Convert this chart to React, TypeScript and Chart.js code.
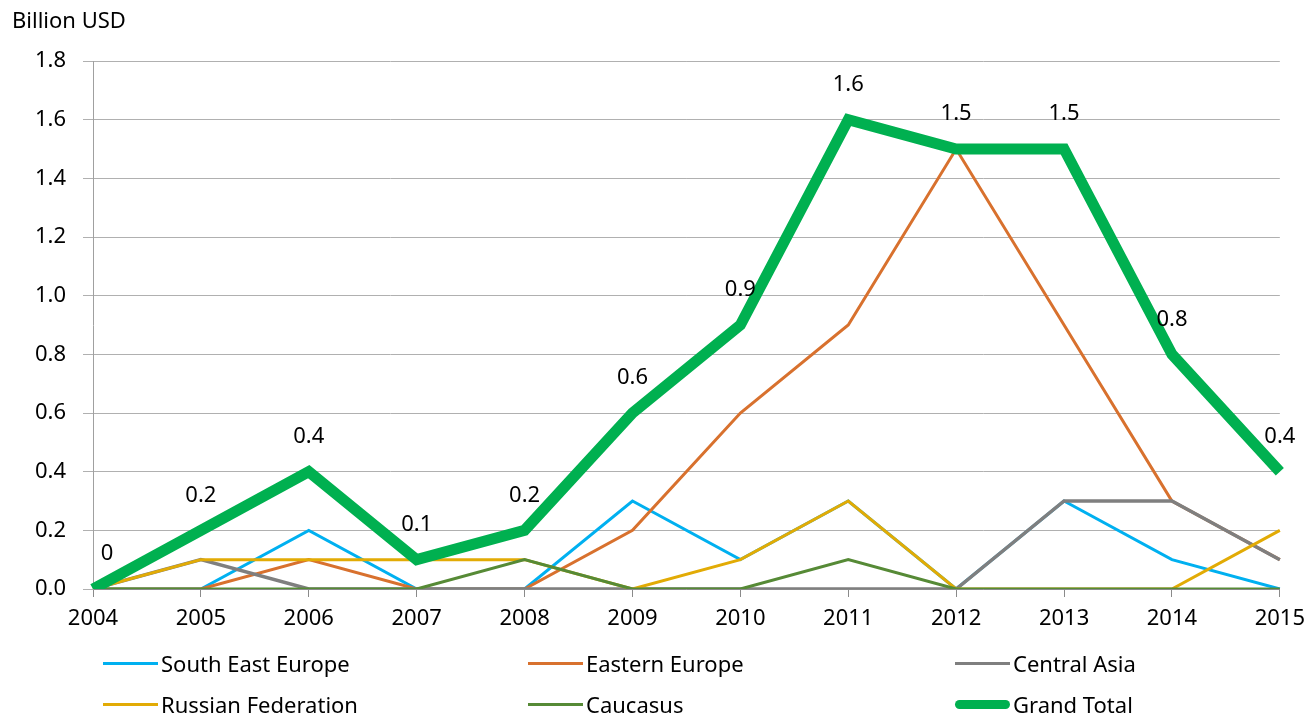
import React, { useEffect, useRef } from "react";
import { Chart, registerables } from "chart.js";

Chart.register(...registerables);

const years = ["2004", "2005", "2006", "2007", "2008", "2009", "2010", "2011", "2012", "2013", "2014", "2015"];
const southEastEurope = [0, 0, 0.2, 0, 0, 0.3, 0.1, 0.3, 0, 0.3, 0.1, 0];
const easternEurope = [0, 0, 0.1, 0, 0, 0.2, 0.6, 0.9, 1.5, 0.9, 0.3, 0.1];
const centralAsia = [0, 0.1, 0, 0, 0, 0, 0, 0, 0, 0.3, 0.3, 0.1];
const russianFederation = [0, 0.1, 0.1, 0.1, 0.1, 0, 0.1, 0.3, 0, 0, 0, 0.2];
const caucasus = [0, 0, 0, 0, 0.1, 0, 0, 0.1, 0, 0, 0, 0];
const grandTotal = [0, 0.2, 0.4, 0.1, 0.2, 0.6, 0.9, 1.6, 1.5, 1.5, 0.8, 0.4];
const grandTotalLabels = ["0", "0.2", "0.4", "0.1", "0.2", "0.6", "0.9", "1.6", "1.5", "1.5", "0.8", "0.4"];
const yTicks = [0, 0.2, 0.4, 0.6, 0.8, 1.0, 1.2, 1.4, 1.6, 1.8];

const FONT = "'Noto Sans', sans-serif";
const FONT_SIZE = 22;

const seriesNames = ["South East Europe", "Eastern Europe", "Central Asia", "Russian Federation", "Caucasus", "Grand Total"];
const seriesColors = ["#00b0f0", "#d8712e", "#7f7f7f", "#e2ab05", "#568a36", "#00b050"];
const seriesWidths = [3, 3, 3.5, 3, 3, 11];

const labelPlugin = {
  id: "totalLabels",
  afterDatasetsDraw(chart: any) {
    const meta = chart.getDatasetMeta(5);
    const ctx = chart.ctx;
    ctx.save();
    ctx.font = `${FONT_SIZE}px ${FONT}`;
    ctx.fillStyle = "#000";
    ctx.textAlign = "center";
    ctx.textBaseline = "middle";
    meta.data.forEach((pt: any, i: number) => {
      const dx = i === 0 ? 14 : 0;
      ctx.fillText(grandTotalLabels[i], pt.x + dx, pt.y - 35);
    });
    ctx.restore();
  },
};

export default function App() {
  const ref = useRef<HTMLCanvasElement | null>(null);
  useEffect(() => {
    if (!ref.current) return;
    const data = [southEastEurope, easternEurope, centralAsia, russianFederation, caucasus, grandTotal];
    const chart = new Chart(ref.current, {
      type: "line",
      data: {
        labels: years,
        datasets: data.map((d, i) => ({
          label: seriesNames[i],
          data: d,
          borderColor: seriesColors[i],
          backgroundColor: seriesColors[i],
          borderWidth: seriesWidths[i],
          pointRadius: 0,
          tension: 0,
          fill: false,
          order: 5 - i,
          borderJoinStyle: "miter" as const,
        })),
      },
      options: {
        animation: false,
        responsive: true,
        maintainAspectRatio: false,
        events: [],
        layout: { padding: { top: 61, right: 31, left: 0, bottom: 0 } },
        plugins: { legend: { display: false }, tooltip: { enabled: false } },
        scales: {
          x: {
            type: "category",
            offset: false,
            afterFit: (s: any) => { s.height = 128; },
            grid: { drawOnChartArea: false, drawTicks: true, tickLength: 8, color: "#8a8a8a" },
            border: { color: "#8a8a8a", width: 1 },
            ticks: { color: "#000", font: { family: FONT, size: FONT_SIZE }, padding: 9, maxRotation: 0, autoSkip: false },
          },
          y: {
            min: 0,
            max: 1.8,
            afterFit: (s: any) => { s.width = 93; },
            afterBuildTicks: (s: any) => { s.ticks = yTicks.map((v) => ({ value: v })); },
            grid: { color: "#b0b0b0", lineWidth: 1, tickLength: 10 },
            border: { color: "#a0a0a0", width: 1 },
            ticks: {
              color: "#000",
              font: { family: FONT, size: FONT_SIZE },
              padding: 17,
              callback: (v: any) => Number(v).toFixed(1),
            },
          },
        },
      },
      plugins: [labelPlugin],
    });
    return () => chart.destroy();
  }, []);

  const legendCols = [103, 528, 955];
  const legendRows = [663, 704];

  return (
    <div style={{ position: "absolute", left: 0, top: 0, width: 1314, height: 717, background: "#fff", fontFamily: FONT, fontSize: FONT_SIZE }}>
      <canvas ref={ref} />
      <div style={{ position: "absolute", left: 12, top: 19, transform: "translateY(-50%)", whiteSpace: "nowrap" }}>Billion USD</div>
      {seriesNames.map((name, i) => {
        const col = i % 3;
        const row = Math.floor(i / 3);
        const h = i === 5 ? 9 : 3;
        return (
          <div key={name} style={{ position: "absolute", left: legendCols[col], top: legendRows[row], transform: "translateY(-50%)", display: "flex", alignItems: "center", whiteSpace: "nowrap" }}>
            <span style={{ display: "inline-block", width: 55, height: h, background: seriesColors[i], borderRadius: i === 5 ? 5 : 0, marginRight: 3 }} />
            <span>{name}</span>
          </div>
        );
      })}
    </div>
  );
}
